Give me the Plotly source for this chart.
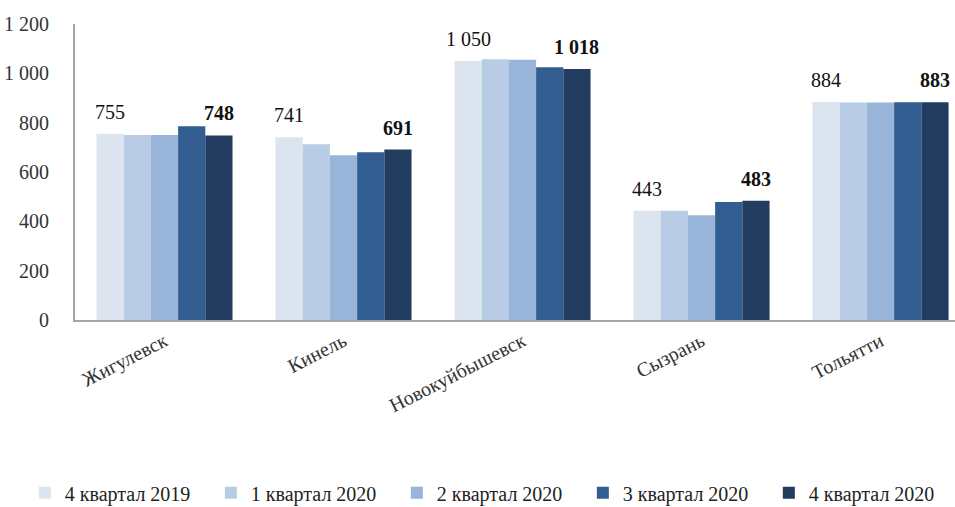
import plotly.graph_objects as go

# Cities (categories) and quarterly values
cities = ["Жигулевск", "Кинель", "Новокуйбышевск", "Сызрань", "Тольятти"]
quarters = ["4 квартал 2019", "1 квартал 2020", "2 квартал 2020", "3 квартал 2020", "4 квартал 2020"]

q4_2019 = [755, 741, 1050, 443, 884]
q1_2020 = [750, 712, 1057, 443, 882]
q2_2020 = [750, 668, 1055, 425, 882]
q3_2020 = [785, 680, 1025, 478, 883]
q4_2020 = [748, 691, 1018, 483, 883]

series = [q4_2019, q1_2020, q2_2020, q3_2020, q4_2020]
colors = ["#dce4ef", "#b9cce5", "#98b4d8", "#315d90", "#213c5f"]

FONT = "Liberation Serif, Times New Roman, serif"

# Plot geometry
W, H = 955, 507
M_L, M_R, M_T, M_B = 75, 0, 24, 187
X_RANGE = [-0.5, 4.416]
BARGAP = 0.24

fig = go.Figure()
for name, vals, col in zip(quarters, series, colors):
    fig.add_trace(go.Bar(
        x=cities, y=vals, name=name,
        marker=dict(color=col, line=dict(width=0)),
    ))


def fmt(v):
    return f"{v:,}".replace(",", " ")


# Value labels over the first and the last quarter of each city
px_per_cat = (W - M_L - M_R) / (X_RANGE[1] - X_RANGE[0])
bar_px = px_per_cat * (1 - BARGAP) / len(series)
for idx, bold in ((0, False), (len(series) - 1, True)):
    offset = (idx - (len(series) - 1) / 2) * bar_px
    for city, v in zip(cities, series[idx]):
        txt = f"<b>{fmt(v)}</b>" if bold else fmt(v)
        fig.add_annotation(
            x=city, y=v, text=txt, showarrow=False,
            xshift=offset, yshift=9, yanchor="bottom",
            font=dict(family=FONT, size=20, color="#111111"),
        )

fig.update_layout(
    width=W, height=H,
    margin=dict(l=M_L, r=M_R, t=M_T, b=M_B, autoexpand=False),
    paper_bgcolor="white", plot_bgcolor="white",
    barmode="group", bargap=BARGAP, bargroupgap=0,
    separators=", ",
    font=dict(family=FONT, size=18, color="#333333"),
    showlegend=True,
    legend=dict(
        orientation="h",
        x=-0.057, y=-0.584, xanchor="left", yanchor="middle",
        font=dict(family=FONT, size=20, color="#222222"),
        entrywidth=141, entrywidthmode="pixels",
        itemclick=False, itemdoubleclick=False,
    ),
    xaxis=dict(
        range=X_RANGE,
        showline=True, linecolor="#a6a6a6", linewidth=2,
        showgrid=False, zeroline=False,
        tickangle=-27, ticks="",
        tickfont=dict(family=FONT, size=20, color="#333333"),
    ),
    yaxis=dict(
        range=[0, 1200], dtick=200,
        showline=True, linecolor="#a6a6a6", linewidth=2,
        showgrid=False, zeroline=False,
        ticks="", ticklabelstandoff=20,
        tickformat=",d",
        tickfont=dict(family=FONT, size=20, color="#333333"),
    ),
)

fig.write_html("out.html")
